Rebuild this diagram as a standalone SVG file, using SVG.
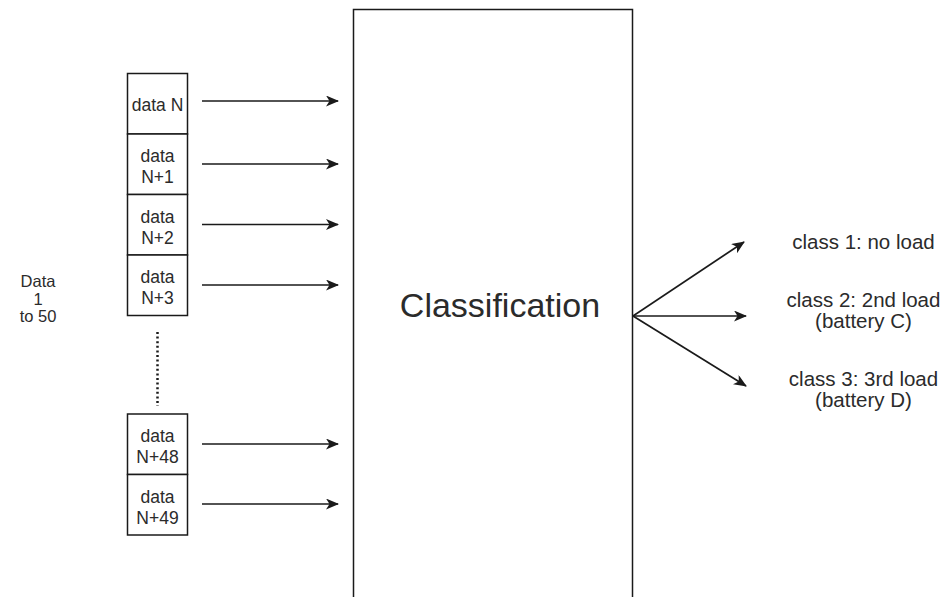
<svg xmlns="http://www.w3.org/2000/svg" width="946" height="597" viewBox="0 0 946 597">
  <defs>
    <style>
      .box { fill: #ffffff; stroke: #1a1a1a; stroke-width: 1.5; }
      .lbl { font-family: "Liberation Sans", Arial, sans-serif; fill: #2b2b2b; text-anchor: middle; }
      .small { font-size: 17.5px; }
      .side { font-size: 20.5px; }
      .big { font-size: 34px; }
      .range { font-size: 16.5px; }
      .edge { stroke: #1a1a1a; stroke-width: 1.7; fill: none; }
      .dots { stroke: #1a1a1a; stroke-width: 2.5; stroke-dasharray: 2 2.6; fill: none; }
    </style>
    <marker id="arrow" viewBox="0 0 13 11" refX="12" refY="5.5" markerWidth="13" markerHeight="11" markerUnits="userSpaceOnUse" orient="auto">
      <path d="M0,0 L13,5.5 L0,11 L3.5,5.5 Z" fill="#1a1a1a"/>
    </marker>
  </defs>

  <rect width="946" height="597" fill="#ffffff"/>

  <!-- central classifier block, open at the bottom edge of the canvas -->
  <g id="classification">
    <rect class="box" x="353.5" y="9.5" width="279" height="600"/>
    <text class="lbl big" x="500" y="317">Classification</text>
  </g>

  <!-- input range label -->
  <g id="data-range">
    <text class="lbl range" x="38" y="287">Data</text>
    <text class="lbl range" x="38" y="304.5">1</text>
    <text class="lbl range" x="38" y="322">to 50</text>
  </g>

  <!-- stacked input samples -->
  <g id="data-n">
    <rect class="box" x="127.5" y="73.5" width="60" height="60.5"/>
    <text class="lbl small" x="157.5" y="111">data N</text>
  </g>
  <g id="data-n1">
    <rect class="box" x="127.5" y="134" width="60" height="60.5"/>
    <text class="lbl small" x="157.5" y="162">data</text>
    <text class="lbl small" x="157.5" y="183">N+1</text>
  </g>
  <g id="data-n2">
    <rect class="box" x="127.5" y="194.5" width="60" height="60.5"/>
    <text class="lbl small" x="157.5" y="222.5">data</text>
    <text class="lbl small" x="157.5" y="243.5">N+2</text>
  </g>
  <g id="data-n3">
    <rect class="box" x="127.5" y="255" width="60" height="60.5"/>
    <text class="lbl small" x="157.5" y="283">data</text>
    <text class="lbl small" x="157.5" y="304">N+3</text>
  </g>
  <g id="data-n48">
    <rect class="box" x="127.5" y="414" width="60" height="60.5"/>
    <text class="lbl small" x="157.5" y="442">data</text>
    <text class="lbl small" x="157.5" y="463">N+48</text>
  </g>
  <g id="data-n49">
    <rect class="box" x="127.5" y="474.5" width="60" height="60.5"/>
    <text class="lbl small" x="157.5" y="502.5">data</text>
    <text class="lbl small" x="157.5" y="523.5">N+49</text>
  </g>

  <!-- output classes -->
  <g id="class-1">
    <text class="lbl side" x="863.5" y="249">class 1: no load</text>
  </g>
  <g id="class-2">
    <text class="lbl side" x="863.5" y="307">class 2: 2nd load</text>
    <text class="lbl side" x="863.5" y="328">(battery C)</text>
  </g>
  <g id="class-3">
    <text class="lbl side" x="863.5" y="386">class 3: 3rd load</text>
    <text class="lbl side" x="863.5" y="407">(battery D)</text>
  </g>

  <!-- connectors -->
  <g id="connectors">
    <line class="dots" x1="157.5" y1="332" x2="157.5" y2="406"/>
    <line class="edge" x1="202" y1="101" x2="338" y2="101" marker-end="url(#arrow)"/>
    <line class="edge" x1="202" y1="164" x2="338" y2="164" marker-end="url(#arrow)"/>
    <line class="edge" x1="202" y1="224.5" x2="338" y2="224.5" marker-end="url(#arrow)"/>
    <line class="edge" x1="202" y1="285" x2="338" y2="285" marker-end="url(#arrow)"/>
    <line class="edge" x1="202" y1="444" x2="338" y2="444" marker-end="url(#arrow)"/>
    <line class="edge" x1="202" y1="504" x2="338" y2="504" marker-end="url(#arrow)"/>
    <line class="edge" x1="633" y1="316" x2="744" y2="242" marker-end="url(#arrow)"/>
    <line class="edge" x1="633" y1="316" x2="746" y2="316" marker-end="url(#arrow)"/>
    <line class="edge" x1="633" y1="316" x2="746" y2="386" marker-end="url(#arrow)"/>
  </g>
</svg>
